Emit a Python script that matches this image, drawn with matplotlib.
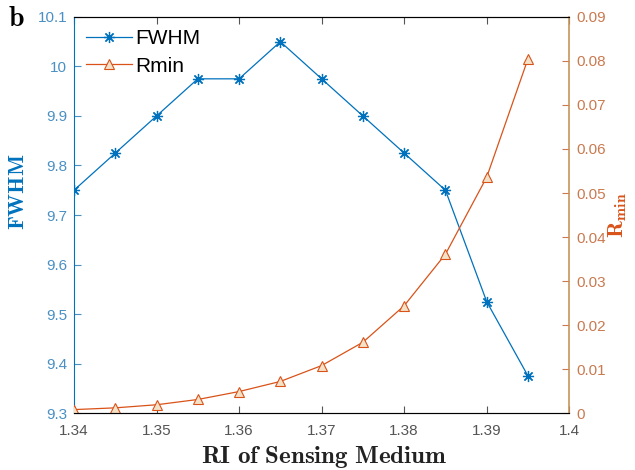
import numpy as np
import matplotlib
matplotlib.use('Agg')
import matplotlib.pyplot as plt

## Data
ri = [1.34, 1.345, 1.35, 1.355, 1.36, 1.365, 1.37, 1.375, 1.38, 1.385, 1.39, 1.395]
fwhm = [9.75, 9.825, 9.9, 9.975, 9.975, 10.05, 9.975, 9.9, 9.825, 9.75, 9.525, 9.375]
rmin = [0.0008, 0.0012, 0.0019, 0.0031, 0.0049, 0.0072, 0.0108, 0.0161, 0.0244, 0.0361, 0.0536, 0.0805]

xticks = [1.34, 1.35, 1.36, 1.37, 1.38, 1.39, 1.4]
xticklabels = ['1.34', '1.35', '1.36', '1.37', '1.38', '1.39', '1.4']
lticks = [9.3, 9.4, 9.5, 9.6, 9.7, 9.8, 9.9, 10.0, 10.1]
lticklabels = ['9.3', '9.4', '9.5', '9.6', '9.7', '9.8', '9.9', '10', '10.1']
rticks = [0, 0.01, 0.02, 0.03, 0.04, 0.05, 0.06, 0.07, 0.08, 0.09]
rticklabels = ['0', '0.01', '0.02', '0.03', '0.04', '0.05', '0.06', '0.07', '0.08', '0.09']

blue = '#0072BD'
orange = '#D95319'
blue_txt = '#4a90c4'
orange_txt = '#c97a50'
axis_orange = '#c8955c'

plt.rcParams['font.family'] = 'Liberation Sans'
plt.rcParams['mathtext.fontset'] = 'cm'

fig = plt.figure(figsize=(6.35, 4.7), dpi=100)
ax = fig.add_axes([0.1165, 0.121, 0.78, 0.843])
ax2 = ax.twinx()

l1, = ax.plot(ri, fwhm, color=blue, lw=0.9, marker=(8, 2, 0), ms=8, mec=blue, mew=0.9, label='FWHM')
l2, = ax2.plot(ri, rmin, color=orange, lw=0.9, marker='^', ms=7, mfc='#f3e2c8',
               mec=orange, mew=0.8, label='Rmin')

ax.set_xlim(1.34, 1.4)
ax.set_ylim(9.3, 10.1)
ax2.set_ylim(0, 0.09)

ax.set_xticks(xticks)
ax.set_xticklabels(xticklabels)
ax.set_yticks(lticks)
ax.set_yticklabels(lticklabels)
ax2.set_yticks(rticks)
ax2.set_yticklabels(rticklabels)

for a in (ax, ax2):
    a.tick_params(direction='in', length=5, width=0.8, labelsize=11, pad=5)
ax.tick_params(axis='x', colors='#555555', top=True, pad=8)
ax.tick_params(axis='y', colors=blue_txt)
ax2.tick_params(axis='y', colors=orange_txt)

ax.spines['left'].set_color(blue)
ax2.spines['left'].set_visible(False)
ax2.spines['right'].set_color(axis_orange)
ax2.spines['right'].set_linewidth(1.2)
ax.spines['bottom'].set_color('#555555')
ax.spines['top'].set_color('#333333')
ax.spines['right'].set_visible(False)

# bold Computer Modern labels, like the LaTeX interpreter
ax.set_xlabel(r'$\mathbf{RI\ of\ Sensing\ Medium}$', fontsize=18, color='#222222')
ax.xaxis.set_label_coords(0.505, -0.078)
ax.set_ylabel(r'$\mathbf{FWHM}$', fontsize=16, color=blue)
ax.yaxis.set_label_coords(-0.09, 0.56)
ax2.set_ylabel(r'$\mathbf{R_{min}}$', fontsize=16, color=orange)
ax2.yaxis.set_label_coords(1.075, 0.5)

ax.legend([l1, l2], ['FWHM', 'Rmin'], loc='upper left', frameon=False, fontsize=15,
          handlelength=2.2, borderaxespad=0.2, labelspacing=0.4, handletextpad=0.15)

fig.text(0.012, 0.945, r'$\mathbf{b}$', fontsize=20)

fig.savefig('out.png', dpi=100)
